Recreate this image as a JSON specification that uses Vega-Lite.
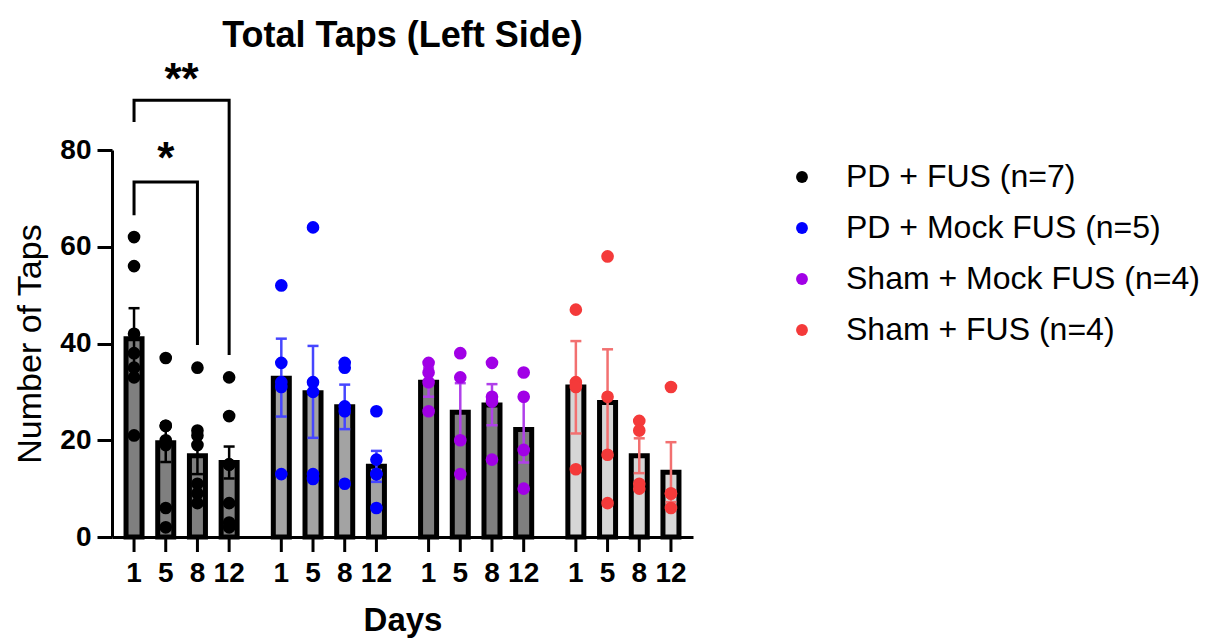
{
  "$schema": "https://vega.github.io/schema/vega-lite/v6.json",
  "width": 581,
  "height": 387,
  "autosize": {"type": "none"},
  "padding": {"left": 112, "top": 150, "right": 526, "bottom": 102},
  "background": "white",
  "config": {
    "font": "Liberation Sans",
    "view": {"stroke": null},
    "axis": {"grid": false}
  },
  "title": {"text": "Total Taps (Left Side)", "fontSize": 36, "fontWeight": "bold", "anchor": "middle", "color": "black"},
  "datasets": {
    "summary": [
      {"group": "PD + FUS (n=7)", "day": "1", "mean": 41.0, "lo": 34.7, "hi": 47.3},
      {"group": "PD + FUS (n=7)", "day": "5", "mean": 19.5, "lo": 15.5, "hi": 23.5},
      {"group": "PD + FUS (n=7)", "day": "8", "mean": 16.8, "lo": 13.0, "hi": 20.6},
      {"group": "PD + FUS (n=7)", "day": "12", "mean": 15.4, "lo": 12.1, "hi": 18.7},
      {"group": "PD + Mock FUS (n=5)", "day": "1", "mean": 32.8, "lo": 24.9, "hi": 41.0},
      {"group": "PD + Mock FUS (n=5)", "day": "5", "mean": 29.8, "lo": 20.5, "hi": 39.5},
      {"group": "PD + Mock FUS (n=5)", "day": "8", "mean": 26.9, "lo": 22.3, "hi": 31.5},
      {"group": "PD + Mock FUS (n=5)", "day": "12", "mean": 14.6, "lo": 11.4, "hi": 17.8},
      {"group": "Sham + Mock FUS (n=4)", "day": "1", "mean": 32.0, "lo": 29.0, "hi": 35.0},
      {"group": "Sham + Mock FUS (n=4)", "day": "5", "mean": 25.8, "lo": 19.8, "hi": 31.8},
      {"group": "Sham + Mock FUS (n=4)", "day": "8", "mean": 27.3, "lo": 23.1, "hi": 31.6},
      {"group": "Sham + Mock FUS (n=4)", "day": "12", "mean": 22.2, "lo": 15.4, "hi": 29.0},
      {"group": "Sham + FUS (n=4)", "day": "1", "mean": 31.0, "lo": 21.4, "hi": 40.5},
      {"group": "Sham + FUS (n=4)", "day": "5", "mean": 27.8, "lo": 16.8, "hi": 38.8},
      {"group": "Sham + FUS (n=4)", "day": "8", "mean": 16.8, "lo": 13.2, "hi": 20.4},
      {"group": "Sham + FUS (n=4)", "day": "12", "mean": 13.4, "lo": 7.2, "hi": 19.6}
    ],
    "points": [
      {"group": "PD + FUS (n=7)", "day": "1", "value": 62},
      {"group": "PD + FUS (n=7)", "day": "1", "value": 56},
      {"group": "PD + FUS (n=7)", "day": "1", "value": 42},
      {"group": "PD + FUS (n=7)", "day": "1", "value": 38},
      {"group": "PD + FUS (n=7)", "day": "1", "value": 35},
      {"group": "PD + FUS (n=7)", "day": "1", "value": 33},
      {"group": "PD + FUS (n=7)", "day": "1", "value": 21},
      {"group": "PD + FUS (n=7)", "day": "5", "value": 37},
      {"group": "PD + FUS (n=7)", "day": "5", "value": 23},
      {"group": "PD + FUS (n=7)", "day": "5", "value": 23},
      {"group": "PD + FUS (n=7)", "day": "5", "value": 20},
      {"group": "PD + FUS (n=7)", "day": "5", "value": 19},
      {"group": "PD + FUS (n=7)", "day": "5", "value": 6},
      {"group": "PD + FUS (n=7)", "day": "5", "value": 2},
      {"group": "PD + FUS (n=7)", "day": "8", "value": 35},
      {"group": "PD + FUS (n=7)", "day": "8", "value": 22},
      {"group": "PD + FUS (n=7)", "day": "8", "value": 21},
      {"group": "PD + FUS (n=7)", "day": "8", "value": 19},
      {"group": "PD + FUS (n=7)", "day": "8", "value": 11},
      {"group": "PD + FUS (n=7)", "day": "8", "value": 9},
      {"group": "PD + FUS (n=7)", "day": "8", "value": 7},
      {"group": "PD + FUS (n=7)", "day": "12", "value": 33},
      {"group": "PD + FUS (n=7)", "day": "12", "value": 25},
      {"group": "PD + FUS (n=7)", "day": "12", "value": 15},
      {"group": "PD + FUS (n=7)", "day": "12", "value": 15},
      {"group": "PD + FUS (n=7)", "day": "12", "value": 7},
      {"group": "PD + FUS (n=7)", "day": "12", "value": 3},
      {"group": "PD + FUS (n=7)", "day": "12", "value": 2},
      {"group": "PD + Mock FUS (n=5)", "day": "1", "value": 52},
      {"group": "PD + Mock FUS (n=5)", "day": "1", "value": 36},
      {"group": "PD + Mock FUS (n=5)", "day": "1", "value": 32},
      {"group": "PD + Mock FUS (n=5)", "day": "1", "value": 31},
      {"group": "PD + Mock FUS (n=5)", "day": "1", "value": 13},
      {"group": "PD + Mock FUS (n=5)", "day": "5", "value": 64},
      {"group": "PD + Mock FUS (n=5)", "day": "5", "value": 32},
      {"group": "PD + Mock FUS (n=5)", "day": "5", "value": 30},
      {"group": "PD + Mock FUS (n=5)", "day": "5", "value": 13},
      {"group": "PD + Mock FUS (n=5)", "day": "5", "value": 12},
      {"group": "PD + Mock FUS (n=5)", "day": "8", "value": 36},
      {"group": "PD + Mock FUS (n=5)", "day": "8", "value": 35},
      {"group": "PD + Mock FUS (n=5)", "day": "8", "value": 27},
      {"group": "PD + Mock FUS (n=5)", "day": "8", "value": 26},
      {"group": "PD + Mock FUS (n=5)", "day": "8", "value": 11},
      {"group": "PD + Mock FUS (n=5)", "day": "12", "value": 26},
      {"group": "PD + Mock FUS (n=5)", "day": "12", "value": 16},
      {"group": "PD + Mock FUS (n=5)", "day": "12", "value": 13},
      {"group": "PD + Mock FUS (n=5)", "day": "12", "value": 13},
      {"group": "PD + Mock FUS (n=5)", "day": "12", "value": 6},
      {"group": "Sham + Mock FUS (n=4)", "day": "1", "value": 36},
      {"group": "Sham + Mock FUS (n=4)", "day": "1", "value": 34},
      {"group": "Sham + Mock FUS (n=4)", "day": "1", "value": 32},
      {"group": "Sham + Mock FUS (n=4)", "day": "1", "value": 26},
      {"group": "Sham + Mock FUS (n=4)", "day": "5", "value": 38},
      {"group": "Sham + Mock FUS (n=4)", "day": "5", "value": 33},
      {"group": "Sham + Mock FUS (n=4)", "day": "5", "value": 20},
      {"group": "Sham + Mock FUS (n=4)", "day": "5", "value": 13},
      {"group": "Sham + Mock FUS (n=4)", "day": "8", "value": 36},
      {"group": "Sham + Mock FUS (n=4)", "day": "8", "value": 29},
      {"group": "Sham + Mock FUS (n=4)", "day": "8", "value": 28},
      {"group": "Sham + Mock FUS (n=4)", "day": "8", "value": 16},
      {"group": "Sham + Mock FUS (n=4)", "day": "12", "value": 34},
      {"group": "Sham + Mock FUS (n=4)", "day": "12", "value": 29},
      {"group": "Sham + Mock FUS (n=4)", "day": "12", "value": 18},
      {"group": "Sham + Mock FUS (n=4)", "day": "12", "value": 10},
      {"group": "Sham + FUS (n=4)", "day": "1", "value": 47},
      {"group": "Sham + FUS (n=4)", "day": "1", "value": 32},
      {"group": "Sham + FUS (n=4)", "day": "1", "value": 31},
      {"group": "Sham + FUS (n=4)", "day": "1", "value": 14},
      {"group": "Sham + FUS (n=4)", "day": "5", "value": 58},
      {"group": "Sham + FUS (n=4)", "day": "5", "value": 29},
      {"group": "Sham + FUS (n=4)", "day": "5", "value": 17},
      {"group": "Sham + FUS (n=4)", "day": "5", "value": 7},
      {"group": "Sham + FUS (n=4)", "day": "8", "value": 24},
      {"group": "Sham + FUS (n=4)", "day": "8", "value": 22},
      {"group": "Sham + FUS (n=4)", "day": "8", "value": 11},
      {"group": "Sham + FUS (n=4)", "day": "8", "value": 10},
      {"group": "Sham + FUS (n=4)", "day": "12", "value": 31},
      {"group": "Sham + FUS (n=4)", "day": "12", "value": 9},
      {"group": "Sham + FUS (n=4)", "day": "12", "value": 9},
      {"group": "Sham + FUS (n=4)", "day": "12", "value": 6}
    ],
    "brackets": [
      {"b": 1, "k": 1, "group": "PD + FUS (n=7)", "day": "1", "y": 66.5},
      {"b": 1, "k": 2, "group": "PD + FUS (n=7)", "day": "1", "y": 73.4},
      {"b": 1, "k": 3, "group": "PD + FUS (n=7)", "day": "8", "y": 73.4},
      {"b": 1, "k": 4, "group": "PD + FUS (n=7)", "day": "8", "y": 39.7},
      {"b": 2, "k": 1, "group": "PD + FUS (n=7)", "day": "1", "y": 85.8},
      {"b": 2, "k": 2, "group": "PD + FUS (n=7)", "day": "1", "y": 90.3},
      {"b": 2, "k": 3, "group": "PD + FUS (n=7)", "day": "12", "y": 90.3},
      {"b": 2, "k": 4, "group": "PD + FUS (n=7)", "day": "12", "y": 37.6}
    ],
    "stars": [
      {"group": "PD + FUS (n=7)", "day": "5", "y": 75.3, "label": "*"},
      {"group": "PD + FUS (n=7)", "y": 91.6, "label": "**"}
    ]
  },
  "layer": [
    {
      "data": {"name": "summary"},
      "mark": {"type": "bar", "stroke": "black", "strokeWidth": 5},
      "encoding": {
        "x": {
          "field": "group", "type": "nominal", "title": "Days",
          "scale": {"domain": ["PD + FUS (n=7)", "PD + Mock FUS (n=5)", "Sham + Mock FUS (n=4)", "Sham + FUS (n=4)"], "paddingInner": 0.139, "paddingOuter": 0.042},
          "axis": {"labels": false, "ticks": false, "domainColor": "black", "domainWidth": 3, "titleFontSize": 33, "titleFontWeight": "bold", "titleColor": "black", "titlePadding": 67}
        },
        "xOffset": {"field": "day", "type": "ordinal", "scale": {"domain": ["1", "5", "8", "12"], "paddingInner": 0.495, "paddingOuter": 0.2475}},
        "y": {
          "field": "mean", "type": "quantitative", "title": "Number of Taps",
          "scale": {"domain": [0, 80], "nice": false},
          "axis": {"values": [0, 20, 40, 60, 80], "tickSize": 15, "tickWidth": 3, "tickColor": "black", "domainColor": "black", "domainWidth": 3, "labelFontSize": 28, "labelFontWeight": "bold", "labelColor": "black", "labelPadding": 6, "titleFontSize": 34, "titleFontWeight": "normal", "titleColor": "black", "titlePadding": 12}
        },
        "fill": {"field": "group", "type": "nominal", "scale": {"range": ["#7f7f7f", "#a3a3a3", "#d6d6d6", "#7f7f7f"]}, "legend": null}
      }
    },
    {
      "data": {"name": "summary"},
      "mark": {"type": "rule", "strokeWidth": 2.5},
      "encoding": {
        "x": {"field": "group", "type": "nominal", "title": "Days"},
        "xOffset": {"field": "day", "type": "ordinal"},
        "y": {"field": "lo", "type": "quantitative", "title": "Number of Taps"},
        "y2": {"field": "hi"},
        "stroke": {"field": "group", "type": "nominal", "scale": {"range": ["#000000", "#4646ff", "#f27070", "#b040ea"]}, "legend": null}
      }
    },
    {
      "data": {"name": "summary"},
      "mark": {"type": "point", "shape": "M-1,0L1,0", "filled": false, "size": 121, "strokeWidth": 2.5, "opacity": 1},
      "encoding": {
        "x": {"field": "group", "type": "nominal", "title": "Days"},
        "xOffset": {"field": "day", "type": "ordinal"},
        "y": {"field": "hi", "type": "quantitative", "title": "Number of Taps"},
        "stroke": {"field": "group", "type": "nominal", "legend": null}
      }
    },
    {
      "data": {"name": "summary"},
      "mark": {"type": "point", "shape": "M-1,0L1,0", "filled": false, "size": 121, "strokeWidth": 2.5, "opacity": 1},
      "encoding": {
        "x": {"field": "group", "type": "nominal", "title": "Days"},
        "xOffset": {"field": "day", "type": "ordinal"},
        "y": {"field": "lo", "type": "quantitative", "title": "Number of Taps"},
        "stroke": {"field": "group", "type": "nominal", "legend": null}
      }
    },
    {
      "data": {"name": "points"},
      "mark": {"type": "point", "filled": true, "size": 160, "opacity": 1},
      "encoding": {
        "x": {"field": "group", "type": "nominal", "title": "Days"},
        "xOffset": {"field": "day", "type": "ordinal"},
        "y": {"field": "value", "type": "quantitative", "title": "Number of Taps"},
        "color": {
          "field": "group", "type": "nominal",
          "scale": {"domain": ["PD + FUS (n=7)", "PD + Mock FUS (n=5)", "Sham + Mock FUS (n=4)", "Sham + FUS (n=4)"], "range": ["#000000", "#0000ff", "#a100e6", "#f43a3a"]},
          "legend": {"title": null, "orient": "none", "legendX": 674, "legendY": 11, "labelFontSize": 32, "labelColor": "black", "symbolSize": 140, "symbolType": "circle", "labelOffset": 28, "rowPadding": 19, "labelLimit": 600}
        }
      }
    },
    {
      "data": {"name": "summary"},
      "mark": {"type": "rule", "strokeWidth": 3, "color": "black"},
      "encoding": {
        "x": {"field": "group", "type": "nominal", "title": "Days"},
        "xOffset": {"field": "day", "type": "ordinal"},
        "y": {"datum": 0},
        "y2": {"datum": -3.1}
      }
    },
    {
      "data": {"name": "summary"},
      "mark": {"type": "text", "fontSize": 28, "fontWeight": "bold", "color": "black", "baseline": "middle", "dy": 37},
      "encoding": {
        "x": {"field": "group", "type": "nominal", "title": "Days"},
        "xOffset": {"field": "day", "type": "ordinal"},
        "y": {"datum": 0},
        "text": {"field": "day"}
      }
    },
    {
      "data": {"name": "brackets"},
      "mark": {"type": "line", "strokeWidth": 3, "color": "black", "strokeJoin": "miter"},
      "encoding": {
        "x": {"field": "group", "type": "nominal", "title": "Days"},
        "xOffset": {"field": "day", "type": "ordinal"},
        "y": {"field": "y", "type": "quantitative", "title": "Number of Taps"},
        "detail": {"field": "b"},
        "order": {"field": "k"}
      }
    },
    {
      "data": {"name": "stars"},
      "transform": [{"filter": "datum.label == '*'"}],
      "mark": {"type": "text", "fontSize": 44, "fontWeight": "bold", "color": "black", "baseline": "alphabetic"},
      "encoding": {
        "x": {"field": "group", "type": "nominal", "title": "Days"},
        "xOffset": {"field": "day", "type": "ordinal"},
        "y": {"field": "y", "type": "quantitative", "title": "Number of Taps"},
        "text": {"field": "label"}
      }
    },
    {
      "data": {"name": "stars"},
      "transform": [{"filter": "datum.label == '**'"}],
      "mark": {"type": "text", "fontSize": 44, "fontWeight": "bold", "color": "black", "baseline": "alphabetic"},
      "encoding": {
        "x": {"field": "group", "type": "nominal", "title": "Days"},
        "y": {"field": "y", "type": "quantitative", "title": "Number of Taps"},
        "text": {"field": "label"}
      }
    }
  ]
}
